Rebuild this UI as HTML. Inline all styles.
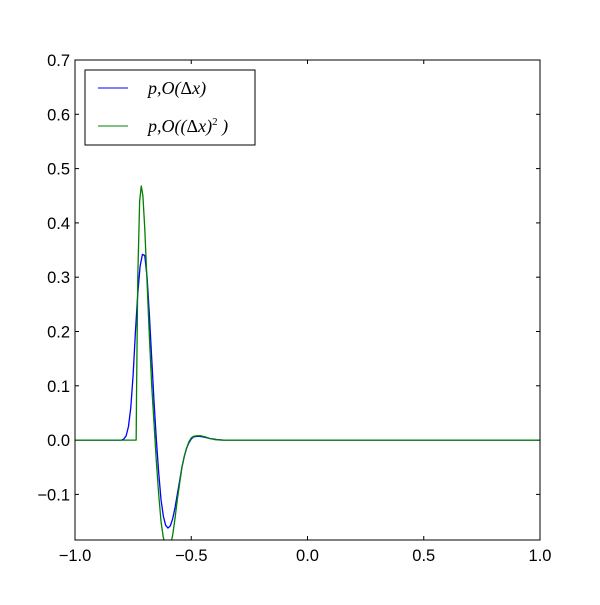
<!DOCTYPE html>
<html><head><meta charset="utf-8"><style>
body{margin:0;background:#fff}
svg text{font-family:"Liberation Sans",sans-serif;font-size:16.5px;fill:#000}
.m{font-family:"Liberation Serif",serif;font-style:italic;font-size:18px}
.u{font-style:normal}
</style></head><body>
<svg id="c" width="600" height="600">
<defs><clipPath id="clip"><rect x="75" y="60" width="465" height="480"/></clipPath></defs>
<g id="ticks"></g>
<g id="series" clip-path="url(#clip)"></g>
<rect x="75" y="60" width="465" height="480" fill="none" stroke="#000"/>
<g>
<rect x="85" y="70" width="170" height="75" fill="#fff" stroke="#000"/>
<line x1="98" y1="88" x2="128" y2="88" stroke="#0000ff"/>
<text class="m" x="148" y="94">p,O(<tspan class="u">Δ</tspan>x)</text>
<line x1="98" y1="126" x2="128" y2="126" stroke="#008000"/>
<text class="m" x="148" y="132">p,O((<tspan class="u">Δ</tspan>x)<tspan dy="-7" font-size="11" class="u">2</tspan><tspan dy="7"> )</tspan></text>
</g>
</svg>
<script>
const xTicks=[-1.0,-0.5,0.0,0.5,1.0];
const xTickLabels=["−1.0","−0.5","0.0","0.5","1.0"];
const yTicks=[-0.1,0.0,0.1,0.2,0.3,0.4,0.5,0.6,0.7];
const yTickLabels=["−0.1","0.0","0.1","0.2","0.3","0.4","0.5","0.6","0.7"];
const blueX=[-1,-0.8,-0.79,-0.78,-0.77,-0.76,-0.75,-0.74,-0.73,-0.72,-0.71,-0.70,-0.69,-0.68,-0.67,-0.66,-0.65,-0.64,-0.63,-0.62,-0.61,-0.60,-0.59,-0.58,-0.57,-0.56,-0.55,-0.54,-0.53,-0.52,-0.51,-0.50,-0.49,-0.47,-0.45,-0.42,-0.39,-0.36,1];
const blueY=[0,0,0.002,0.008,0.025,0.06,0.12,0.2,0.27,0.32,0.342,0.34,0.3,0.23,0.15,0.07,0.0,-0.06,-0.11,-0.14,-0.157,-0.162,-0.158,-0.145,-0.125,-0.10,-0.075,-0.05,-0.03,-0.015,-0.005,0.002,0.006,0.007,0.006,0.003,0.001,0,0];
const greenX=[-1,-0.737,-0.735,-0.73,-0.722,-0.715,-0.708,-0.70,-0.69,-0.68,-0.67,-0.66,-0.65,-0.64,-0.63,-0.62,-0.61,-0.60,-0.59,-0.58,-0.57,-0.56,-0.55,-0.54,-0.53,-0.52,-0.51,-0.50,-0.49,-0.475,-0.46,-0.44,-0.42,-0.40,-0.37,1];
const greenY=[0,0,0.1,0.3,0.44,0.468,0.45,0.39,0.29,0.19,0.10,0.03,-0.04,-0.10,-0.15,-0.18,-0.195,-0.20,-0.195,-0.175,-0.145,-0.11,-0.08,-0.05,-0.03,-0.015,-0.003,0.004,0.007,0.008,0.008,0.006,0.003,0.001,0,0];
const X0=75,X1=540,Y0=540,Y1=60,XMIN=-1,XMAX=1,YMIN=-0.184,YMAX=0.7;
const sx=v=>X0+(v-XMIN)/(XMAX-XMIN)*(X1-X0);
const sy=v=>Y0-(v-YMIN)/(YMAX-YMIN)*(Y0-Y1);
const NS="http://www.w3.org/2000/svg";
const tg=document.getElementById('ticks');
function mk(t,a,p){const e=document.createElementNS(NS,t);for(const k in a)e.setAttribute(k,a[k]);p.appendChild(e);return e;}
xTicks.forEach((v,i)=>{const x=sx(v);
 const l1=mk('line',{x1:x,y1:Y0,x2:x,y2:Y0-4,stroke:'#000'},tg);
 
 
 const l2=mk('line',{x1:x,y1:Y1,x2:x,y2:Y1+4,stroke:'#000'},tg);
 
 
 const t=mk('text',{x:x,y:Y0+21,'text-anchor':'middle'},tg);t.textContent=xTickLabels[i];
 
 
});
yTicks.forEach((v,i)=>{const y=sy(v);
 const l1=mk('line',{x1:X0,y1:y,x2:X0+4,y2:y,stroke:'#000'},tg);
 
 
 const l2=mk('line',{x1:X1,y1:y,x2:X1-4,y2:y,stroke:'#000'},tg);
 
 
 const t=mk('text',{x:X0-5,y:y+6,'text-anchor':'end'},tg);t.textContent=yTickLabels[i];
 
 
});
const sg=document.getElementById('series');
function line(xs,ys,c,name){
 const p=mk('polyline',{points:xs.map((x,i)=>sx(x)+','+sy(ys[i])).join(' '),fill:'none',stroke:c,'stroke-width':1.3,'stroke-linejoin':'round'},sg);
 
 
}
line(blueX,blueY,'#0000ff','series-first-order');
line(greenX,greenY,'#008000','series-second-order');
</script>
</body></html>
